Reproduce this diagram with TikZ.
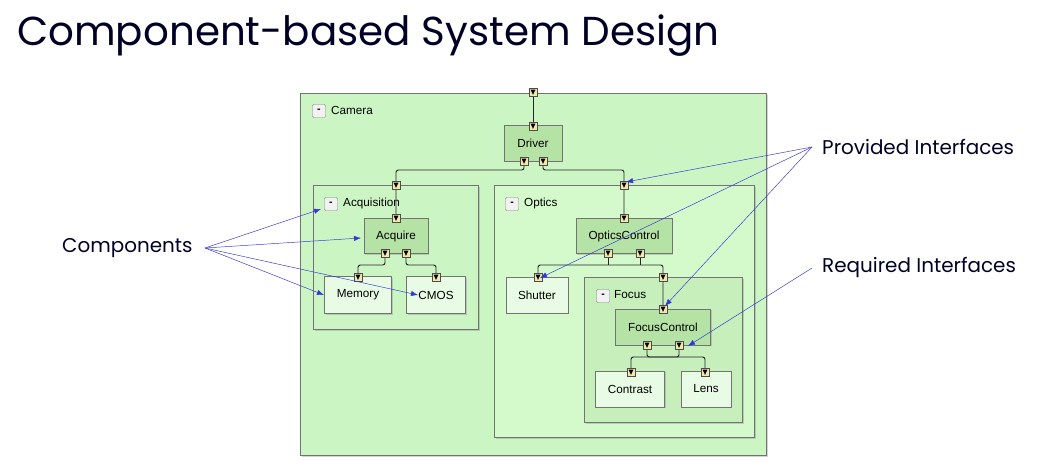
\documentclass[tikz,border=0pt]{standalone}
\usepackage{fontspec}
\setmainfont{Liberation Sans}
\newfontfamily\slidefont{Poppins}
\usetikzlibrary{shadows,arrows.meta}
\definecolor{outerG}{HTML}{CCF5C4}
\definecolor{innerG}{HTML}{D4FACC}
\definecolor{focusG}{HTML}{C6EFBB}
\definecolor{ctrlG}{HTML}{B5E3A5}
\definecolor{leafG}{HTML}{E8FBE4}
\definecolor{portY}{HTML}{F2E8A8}
\definecolor{noteB}{HTML}{3535DD}
\begin{document}
\begin{tikzpicture}[x=0.03cm,y=-0.03cm,
  box/.style={draw=black!55,drop shadow={opacity=0.35,shadow xshift=1.2pt,shadow yshift=-1.2pt},inner sep=0pt,font=\fontsize{10}{12}\selectfont},
  group/.style={box,anchor=north west},
  ctrl/.style={box,fill=ctrlG},
  leaf/.style={box,fill=leafG},
  minus/.style={draw=black!50,fill=black!5,rounded corners=1pt,minimum size=13*0.03cm,inner sep=0pt,font=\bfseries\fontsize{9}{9}\selectfont},
  glabel/.style={anchor=west,font=\fontsize{10}{12}\selectfont,inner sep=0pt},
  port/.style={draw=black!70,fill=portY,minimum size=8*0.03cm,inner sep=0pt,
    path picture={\fill[black] ([xshift=1.3pt,yshift=-1.3pt]path picture bounding box.north west) -- ([xshift=-1.3pt,yshift=-1.3pt]path picture bounding box.north east) -- ([yshift=1pt]path picture bounding box.south) -- cycle;}},
  wire/.style={draw=black!85,thick,rounded corners=2pt},
  note/.style={draw=noteB,-{Latex[length=6pt]}},
  notetext/.style={font=\slidefont\fontsize{17}{20}\selectfont,text=black!85!blue,inner sep=0pt}]
\useasboundingbox (0,0) rectangle (1064,472);
\node[anchor=west,inner sep=0pt,font=\slidefont\fontsize{34.5}{40}\selectfont,text=black!85!blue] (title) at (17,36) {Component-based System Design};

% groups
\node[group,fill=outerG,minimum width=466*0.03cm,minimum height=362*0.03cm] (camera) at (300,93) {};
\node[minus] (mcam) at (319,111) {-};
\node[glabel] (lcam) at (331,110) {Camera};
\node[group,fill=outerG,minimum width=165*0.03cm,minimum height=144*0.03cm] (acq) at (313,185) {};
\node[minus] (macq) at (331,204) {-};
\node[glabel] (lacq) at (343,203) {Acquisition};
\node[group,fill=innerG,minimum width=260*0.03cm,minimum height=252*0.03cm] (optics) at (494,185) {};
\node[minus] (mopt) at (512,204) {-};
\node[glabel] (lopt) at (524,203) {Optics};
\node[group,fill=focusG,minimum width=158*0.03cm,minimum height=145*0.03cm] (focus) at (584,277) {};
\node[minus] (mfoc) at (603,296) {-};
\node[glabel] (lfoc) at (614,295) {Focus};

% components
\node[ctrl,minimum width=58*0.03cm,minimum height=36*0.03cm] (driver) at (533,143) {Driver};
\node[ctrl,minimum width=64*0.03cm,minimum height=35*0.03cm] (acquire) at (396,236) {Acquire};
\node[leaf,minimum width=67*0.03cm,minimum height=37*0.03cm] (memory) at (358,295) {Memory};
\node[leaf,minimum width=59*0.03cm,minimum height=37*0.03cm] (cmos) at (436,295) {CMOS};
\node[ctrl,minimum width=96*0.03cm,minimum height=35*0.03cm] (opticsctrl) at (624,236) {OpticsControl};
\node[leaf,minimum width=62*0.03cm,minimum height=36*0.03cm] (shutter) at (537,295) {Shutter};
\node[ctrl,minimum width=95*0.03cm,minimum height=36*0.03cm] (focusctrl) at (663,327) {FocusControl};
\node[leaf,minimum width=69*0.03cm,minimum height=36*0.03cm] (contrast) at (630,389) {Contrast};
\node[leaf,minimum width=50*0.03cm,minimum height=36*0.03cm] (lens) at (706,389) {Lens};

% wires
\coordinate (ja) at (533,92);
\draw[wire] (ja) -- (533,126);
\draw[wire] (524,161) |- (396,170) -- (396,218);
\draw[wire] (543,161) |- (624,170) -- (624,218);
\draw[wire] (385,253) |- (358,265) -- (358,277);
\draw[wire] (406,253) |- (436,265) -- (436,277);
\draw[wire] (608,253) -- (608,265);
\draw[wire] (640,253) -- (640,265);
\draw[wire] (538,277) |- (663,265) -- (663,309);
\draw[wire] (647,345) |- (679,357) -- (679,345);
\draw[wire] (631,372) |- (705,357) -- (705,372);

% ports
\node[port] (pcam) at (533,92) {};
\node[port] (pdrv) at (533,126) {};
\node[port] (pdrv1) at (524,161) {};
\node[port] (pdrv2) at (543,161) {};
\node[port] (pacqg) at (396,185) {};
\node[port] (pacq) at (396,218) {};
\node[port] (pacq1) at (385,253) {};
\node[port] (pacq2) at (406,253) {};
\node[port] (pmem) at (358,277) {};
\node[port] (pcmos) at (436,277) {};
\node[port] (poptg) at (624,185) {};
\node[port] (popt) at (624,218) {};
\node[port] (popt1) at (608,253) {};
\node[port] (popt2) at (640,253) {};
\node[port] (pshut) at (538,277) {};
\node[port] (pfocg) at (663,277) {};
\node[port] (pfoc) at (663,309) {};
\node[port] (pfoc1) at (647,345) {};
\node[port] (pfoc2) at (679,345) {};
\node[port] (pcon) at (631,372) {};
\node[port] (plens) at (705,372) {};

% annotations
\node[notetext,anchor=west] (components) at (62,248) {Components};
\node[notetext,anchor=west] (provided) at (822,147) {Provided Interfaces};
\node[notetext,anchor=west] (required) at (822,267) {Required Interfaces};
\coordinate (cc) at (205,248);
\coordinate (pp) at (812,147);
\coordinate (rr) at (812,268);
\draw[note] (cc) -- (321,209);
\draw[note] (cc) -- (361,238);
\draw[note] (cc) -- (324,295);
\draw[note] (cc) -- (418,295);
\draw[note] (pp) -- (626,182);
\draw[note] (pp) -- (540,278);
\draw[note] (pp) -- (665,306);
\draw[note] (rr) -- (688,346);
\end{tikzpicture}
\end{document}
